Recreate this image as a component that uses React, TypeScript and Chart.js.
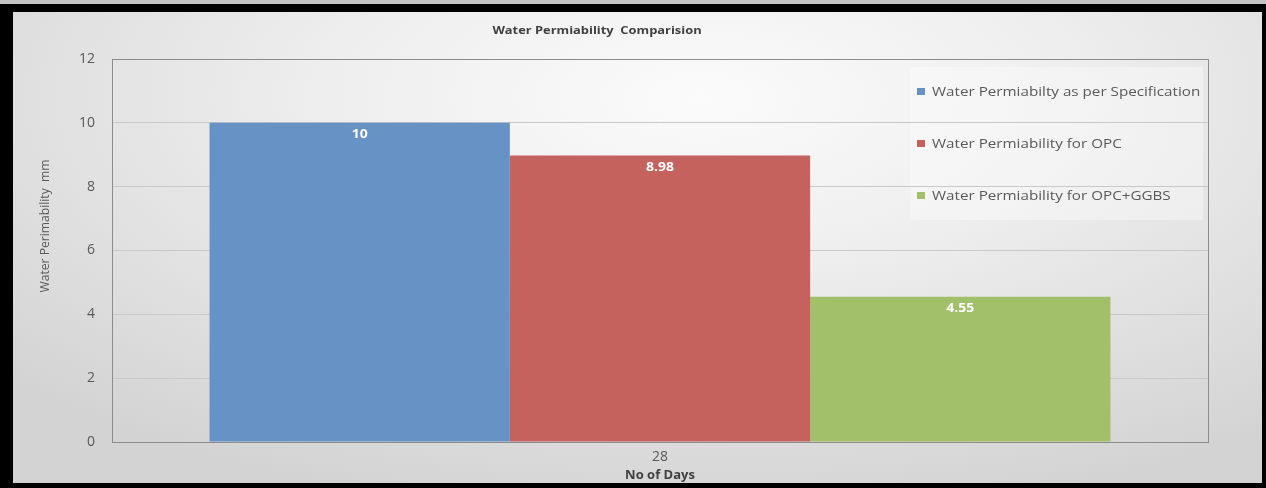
import React, { useEffect, useRef } from "react";
import { Chart, registerables } from "chart.js";

Chart.register(...registerables);

const categories = ["28"];
const seriesNames = [
  "Water Permiabilty as per Specification",
  "Water Permiability for OPC",
  "Water Permiability for OPC+GGBS",
];
const specValues = [10];
const opcValues = [8.98];
const ggbsValues = [4.55];
const seriesColors = ["#6792C6", "#C6625E", "#A2BF69"];
const yTicks = [0, 2, 4, 6, 8, 10, 12];
const titleText = "Water Permiability  Comparision";
const yTitleText = "Water Perimability  mm";
const xTitleText = "No of Days";

const FONT = "'Open Sans', 'Liberation Sans', sans-serif";
const STRETCH = 1.17;

function stretchedText(ctx: any, text: string, x: number, y: number, align: string) {
  ctx.save();
  ctx.translate(x, y);
  ctx.scale(STRETCH, 1);
  ctx.textAlign = align;
  ctx.fillText(text, 0, 0);
  ctx.restore();
}

const decorPlugin = {
  id: "decor",
  beforeDraw(chart: any) {
    const ctx = chart.ctx;
    ctx.save();
    ctx.fillStyle = "rgba(255,255,255,0.35)";
    ctx.fillRect(897, 55, 293, 153);
    ctx.restore();
  },
  afterDatasetsDraw(chart: any) {
    const ctx = chart.ctx;
    ctx.save();
    ctx.fillStyle = "#ffffff";
    ctx.font = `bold 12px ${FONT}`;
    ctx.textBaseline = "middle";
    chart.data.datasets.forEach((ds: any, i: number) => {
      const meta = chart.getDatasetMeta(i);
      meta.data.forEach((bar: any, j: number) => {
        stretchedText(ctx, String(ds.data[j]), bar.x, bar.y + 12, "center");
      });
    });
    ctx.restore();
  },
  afterDraw(chart: any) {
    const ctx = chart.ctx;
    const a = chart.chartArea;
    ctx.save();
    ctx.strokeStyle = "#8c8c8c";
    ctx.lineWidth = 1;
    ctx.strokeRect(Math.round(a.left) + 0.5, Math.round(a.top) + 0.5, Math.round(a.right - a.left), Math.round(a.bottom - a.top));
    // title
    ctx.fillStyle = "#404040";
    ctx.font = `bold 11px ${FONT}`;
    ctx.textBaseline = "middle";
    stretchedText(ctx, titleText, 584, 19, "center");
    // y title
    ctx.save();
    ctx.translate(33, 214);
    ctx.rotate(-Math.PI / 2);
    ctx.font = `12px ${FONT}`;
    const w = ctx.measureText(yTitleText).width;
    ctx.scale(133 / w, 1);
    ctx.fillStyle = "#595959";
    ctx.textAlign = "center";
    ctx.textBaseline = "middle";
    ctx.fillText(yTitleText, 0, 0);
    ctx.restore();
    // legend
    const ys = [80, 132, 184];
    ctx.font = `13px ${FONT}`;
    ctx.textBaseline = "middle";
    seriesNames.forEach((n, i) => {
      ctx.fillStyle = seriesColors[i];
      ctx.fillRect(904, ys[i] - 4, 8, 7);
      ctx.fillStyle = "#595959";
      stretchedText(ctx, n, 919, ys[i], "left");
    });
    ctx.restore();
  },
};

export default function App() {
  const ref = useRef<HTMLCanvasElement>(null);
  useEffect(() => {
    if (!ref.current) return;
    const chart = new Chart(ref.current, {
      type: "bar",
      data: {
        labels: categories,
        datasets: [
          { label: seriesNames[0], data: specValues, backgroundColor: seriesColors[0] },
          { label: seriesNames[1], data: opcValues, backgroundColor: seriesColors[1] },
          { label: seriesNames[2], data: ggbsValues, backgroundColor: seriesColors[2] },
        ],
      },
      options: {
        animation: false,
        responsive: false,
        maintainAspectRatio: false,
        layout: { padding: { left: 0, top: 47, right: 54, bottom: 0 } },
        datasets: { bar: { categoryPercentage: 0.822, barPercentage: 1 } },
        plugins: {
          legend: { display: false },
          title: { display: false },
          tooltip: { enabled: false },
        },
        scales: {
          x: {
            afterFit: (s: any) => { s.height = 41; },
            grid: { display: false, drawTicks: false },
            border: { display: true, color: "#8c8c8c" },
            ticks: { color: "#595959", font: { family: FONT, size: 14 }, padding: 7 },
            title: {
              display: true,
              text: xTitleText,
              color: "#404040",
              font: { family: FONT, size: 13, weight: "bold" },
              padding: { top: 0, bottom: 0 },
            },
          },
          y: {
            min: 0,
            max: 12,
            afterFit: (s: any) => { s.width = 99; },
            afterBuildTicks: (s: any) => { s.ticks = yTicks.map((v) => ({ value: v })); },
            grid: { color: "#c9c9c9", drawTicks: false },
            border: { display: true, color: "#8c8c8c" },
            ticks: { color: "#595959", font: { family: FONT, size: 14 }, padding: 17 },
          },
        },
      },
      plugins: [decorPlugin],
    });
    return () => chart.destroy();
  }, []);

  return (
    <div
      style={{
        position: "fixed",
        left: 0,
        top: 0,
        width: 1266,
        height: 488,
        background: "#c4c4c4",
      }}
    >
      <div
        style={{
          position: "absolute",
          left: 0,
          top: 4,
          width: 1266,
          height: 484,
          boxSizing: "border-box",
          borderStyle: "solid",
          borderColor: "#000",
          borderWidth: "8px 4px 5px 13px",
          background:
            "radial-gradient(ellipse 75% 90% at 55% 18%, #fbfbfb 0%, #eeeeee 40%, #d3d3d3 100%)",
        }}
      >
        <canvas ref={ref} width={1249} height={471} style={{ display: "block", width: 1249, height: 471 }} />
      </div>
    </div>
  );
}
